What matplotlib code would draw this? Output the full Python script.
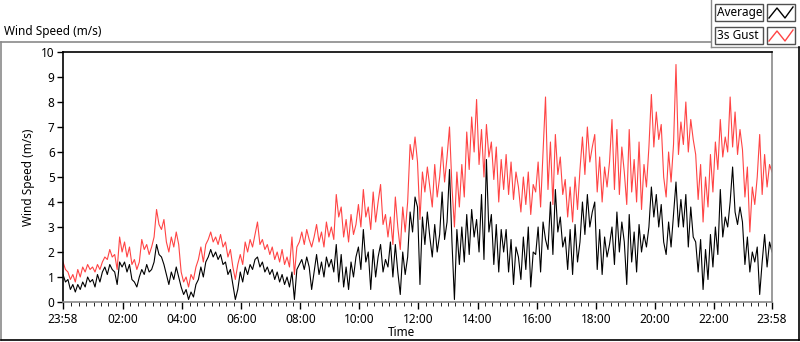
import numpy as np
import matplotlib
matplotlib.use("Agg")
import matplotlib.pyplot as plt
from matplotlib.lines import Line2D
from matplotlib.patches import Rectangle

plt.rcParams['font.family'] = ['Noto Sans', 'DejaVu Sans']

# one sample every 5 minutes, 23:58 -> 23:58 (minutes since start)
step_min = 5

gust = [
    # 00h
    1.6, 1.3, 1.2, 0.9, 1.1, 0.8, 1.3, 1.0, 1.4, 1.2, 1.5, 1.3,
    # 01h
    1.4, 1.2, 1.5, 1.3, 1.6, 1.8, 1.7, 2.1, 1.8, 1.9, 1.3, 2.6,
    # 02h
    2.0, 2.4, 1.8, 2.2, 1.5, 1.7, 1.3, 1.6, 2.5, 2.1, 2.3, 1.9,
    # 03h
    2.2, 2.6, 3.7, 3.1, 2.9, 3.3, 2.4, 2.0, 2.6, 2.2, 2.8, 2.3,
    # 04h
    1.2, 0.8, 1.0, 0.6, 1.1, 0.9, 1.4, 1.7, 2.2, 1.6, 2.3, 2.5,
    # 05h
    2.8, 2.4, 2.6, 2.3, 2.7, 2.2, 2.4, 1.8, 2.1, 1.4, 0.9, 1.5,
    # 06h
    1.9, 1.5, 2.4, 2.0, 2.5, 2.2, 2.7, 3.2, 2.3, 2.5, 2.1, 2.3,
    # 07h
    1.9, 2.2, 1.7, 2.0, 1.6, 2.1, 1.5, 1.8, 1.4, 2.6, 1.1, 2.2,
    # 08h
    2.4, 2.8, 2.3, 2.9, 2.5, 2.2, 2.6, 3.1, 2.4, 2.8, 2.2, 3.2,
    # 09h
    2.6, 3.0, 2.5, 4.3, 3.4, 3.8, 2.6, 3.3, 2.4, 3.5, 2.7, 3.1,
    # 10h
    3.9, 3.0, 4.5, 3.4, 3.8, 2.9, 4.4, 3.2, 4.0, 4.7, 3.1, 3.5,
    # 11h
    2.6, 3.4, 2.3, 4.2, 3.0, 2.1, 3.8, 2.8, 4.0, 6.3, 5.7, 6.6,
    # 12h
    5.6, 3.3, 5.2, 4.4, 5.4, 4.6, 3.8, 5.5, 4.2, 5.0, 6.2, 4.8,
    # 13h
    5.8, 7.0, 4.6, 3.0, 5.2, 3.8, 5.5, 4.2, 6.8, 5.3, 7.4, 6.0,
    # 14h
    8.1, 5.5, 6.9, 5.0, 7.1, 5.8, 6.4, 4.9, 6.2, 4.0, 5.7, 4.5,
    # 15h
    5.9, 4.3, 5.6, 4.1, 5.2, 4.6, 3.6, 5.0, 3.9, 5.2, 3.5, 4.7,
    # 16h
    4.4, 5.6, 3.8, 6.0, 8.2, 4.5, 6.4, 3.9, 6.7, 5.1, 5.8, 4.3,
    # 17h
    4.9, 3.4, 4.6, 3.2, 5.0, 3.7, 5.3, 6.6, 5.1, 7.0, 5.6, 6.2,
    # 18h
    6.7, 4.4, 5.8, 4.0, 5.4, 4.6, 5.6, 7.3, 4.5, 6.9, 4.3, 6.2,
    # 19h
    5.2, 3.9, 6.9, 4.4, 5.7, 4.0, 6.4, 3.7, 5.5, 4.6, 6.2, 8.3,
    # 20h
    6.2, 7.6, 6.5, 7.1, 5.0, 4.2, 6.0, 4.8, 6.3, 9.5, 5.9, 7.2,
    # 21h
    6.3, 8.0, 6.0, 7.3, 6.5, 5.9, 4.1, 5.5, 3.2, 5.0, 3.8, 5.9,
    # 22h
    4.4, 6.4, 5.3, 7.3, 5.8, 6.6, 6.0, 8.2, 6.2, 7.6, 5.9, 6.9,
    # 23h
    6.1, 4.2, 5.4, 2.8, 4.6, 3.9, 5.0, 6.7, 4.3, 5.9, 4.6, 5.5, 5.2,
]

average = [
    # 00h
    1.1, 0.8, 0.9, 0.5, 0.7, 0.4, 0.7, 0.5, 0.8, 0.6, 1.0, 0.8,
    # 01h
    0.9, 0.6, 1.1, 0.8, 1.2, 1.4, 1.1, 1.5, 1.3, 1.2, 0.7, 1.6,
    # 02h
    1.4, 1.6, 1.2, 1.5, 0.9, 0.8, 0.6, 1.0, 1.3, 1.1, 1.5, 1.2,
    # 03h
    1.3, 1.6, 2.3, 1.9, 1.8, 1.5, 1.1, 0.7, 1.2, 0.9, 1.4, 1.0,
    # 04h
    0.6, 0.3, 0.5, 0.1, 0.4, 0.2, 0.7, 0.9, 1.4, 1.0, 1.6, 1.8,
    # 05h
    2.1, 1.8, 2.0, 1.7, 1.9, 1.5, 1.6, 1.1, 1.3, 0.7, 0.1, 0.5,
    # 06h
    1.2, 0.8, 1.4, 1.1, 1.5, 1.3, 1.7, 1.8, 1.4, 1.6, 1.2, 1.4,
    # 07h
    1.1, 1.3, 0.9, 1.2, 0.8, 1.1, 0.7, 1.0, 0.6, 1.2, 0.1, 1.3,
    # 08h
    1.5, 1.7, 1.3, 1.8, 1.4, 0.5, 1.2, 1.9, 1.1, 1.6, 1.0, 1.8,
    # 09h
    1.4, 1.7, 1.2, 2.3, 0.8, 1.9, 0.6, 1.4, 0.5, 1.6, 1.0, 1.8,
    # 10h
    2.2, 1.3, 2.9, 1.6, 2.0, 0.5, 2.1, 1.0, 1.8, 2.3, 1.2, 1.7,
    # 11h
    1.4, 2.4, 1.0, 2.3, 1.2, 0.3, 2.0, 1.1, 1.8, 3.6, 2.8, 4.2,
    # 12h
    3.8, 0.7, 3.4, 2.3, 3.6, 2.6, 1.8, 3.1, 2.0, 2.7, 4.4, 2.5,
    # 13h
    3.2, 5.3, 2.4, 0.1, 2.9, 1.5, 3.0, 1.6, 3.5, 1.9, 3.7, 2.6,
    # 14h
    3.3, 2.0, 4.3, 1.7, 5.7, 2.8, 3.5, 1.5, 3.1, 1.2, 2.9, 2.0,
    # 15h
    2.9, 1.2, 2.5, 0.7, 2.2, 1.8, 0.9, 2.6, 1.3, 3.0, 0.6, 2.0,
    # 16h
    1.9, 3.0, 1.2, 3.2, 2.5, 2.1, 4.0, 1.9, 4.5, 2.8, 3.4, 2.2,
    # 17h
    2.6, 1.3, 2.9, 1.1, 3.1, 1.6, 2.4, 4.0, 2.7, 4.3, 3.0, 3.6,
    # 18h
    4.0, 1.3, 2.9, 1.1, 2.6, 1.8, 2.3, 3.0, 1.5, 3.6, 2.0, 3.2,
    # 19h
    2.4, 0.7, 3.5, 1.6, 2.8, 1.2, 3.1, 2.0, 2.7, 2.2, 3.0, 4.6,
    # 20h
    3.4, 4.3, 3.0, 3.9, 2.4, 1.9, 3.2, 2.2, 3.5, 4.8, 3.0, 4.1,
    # 21h
    3.0, 4.3, 2.2, 3.8, 2.6, 2.4, 1.2, 2.5, 0.5, 2.1, 0.9, 2.7,
    # 22h
    1.4, 3.0, 1.9, 4.5, 2.6, 3.4, 3.0, 4.0, 5.4, 3.6, 3.1, 3.8,
    # 23h
    3.2, 1.5, 2.6, 1.2, 2.0, 1.6, 2.2, 0.3, 1.6, 2.7, 1.4, 2.4, 2.0,
]

tick_labels = ["23:58", "02:00", "04:00", "06:00", "08:00", "10:00", "12:00",
               "14:00", "16:00", "18:00", "20:00", "22:00", "23:58"]
tick_pos = [0] + [122 + 120 * i for i in range(11)] + [1440]

t = np.arange(len(gust)) * step_min

W, H = 800, 342
fig = plt.figure(figsize=(W / 100, H / 100), dpi=100)

def fx(px):
    return px / W

def fy(py):
    return 1 - py / H

ax = fig.add_axes([fx(63), fy(302), fx(772) - fx(63), fy(52) - fy(302)])
ax.plot(t, gust, color="#ff4444", lw=0.8)
ax.plot(t, average, color="black", lw=0.8)

ax.set_xlim(0, 1440)
ax.set_ylim(0, 10)
ax.set_yticks(range(0, 11))
ax.set_xticks(tick_pos)
ax.set_xticklabels(tick_labels)
ax.set_xticks(np.arange(17, 1440, 15), minor=True)
ax.tick_params(axis="both", labelsize=8.5, colors="black", width=1)
ax.tick_params(axis="x", length=5, pad=3)
ax.tick_params(axis="x", which="minor", length=3)
ax.tick_params(axis="y", length=4, pad=2)

for side in ("left", "top"):
    ax.spines[side].set_color("black")
for side in ("right", "bottom"):
    ax.spines[side].set_color("#8a8a8a")
for s in ax.spines.values():
    s.set_linewidth(1.2)

ax.set_ylabel("Wind Speed (m/s)", fontsize=8.5, labelpad=4)
fig.text(fx(388), fy(333), "Time", fontsize=8.5, va="center", ha="left")

fig.text(fx(4), fy(32), "Wind Speed (m/s)", fontsize=8.5, va="center", ha="left")

# sunken panel border
gray = "#8a8a8a"
fig.add_artist(Line2D([fx(0.5), fx(711)], [fy(42), fy(42)], color=gray, lw=1.2))
fig.add_artist(Line2D([fx(0.5), fx(0.5)], [fy(42), fy(340)], color=gray, lw=1.2))
fig.add_artist(Line2D([fx(711), fx(711)], [fy(0), fy(47)], color=gray, lw=1.0))
fig.add_artist(Line2D([fx(711), fx(799)], [fy(47), fy(47)], color=gray, lw=1.0))
fig.add_artist(Line2D([fx(0.5), fx(799)], [fy(340), fy(340)], color="black", lw=1.2))
fig.add_artist(Line2D([fx(799), fx(799)], [fy(47), fy(340)], color="black", lw=1.2))

# legend
legend_rows = [("Average", "black", 4), ("3s Gust", "#ff4444", 27)]
for name, col, top in legend_rows:
    fig.add_artist(Rectangle((fx(715), fy(top + 17)), fx(763) - fx(715), fy(top) - fy(top + 17),
                             transform=fig.transFigure, facecolor="white", edgecolor="#505050", lw=1))
    fig.add_artist(Rectangle((fx(767), fy(top + 17)), fx(795) - fx(767), fy(top) - fy(top + 17),
                             transform=fig.transFigure, facecolor="white", edgecolor="#505050", lw=1))
    fig.text(fx(717), fy(top + 8.5), name, fontsize=8.5, va="center", ha="left")
    fig.add_artist(Line2D([fx(769), fx(777), fx(785), fx(793)],
                          [fy(top + 14), fy(top + 4), fy(top + 14), fy(top + 3)],
                          color=col, lw=1))

fig.savefig("out.png", dpi=100)
